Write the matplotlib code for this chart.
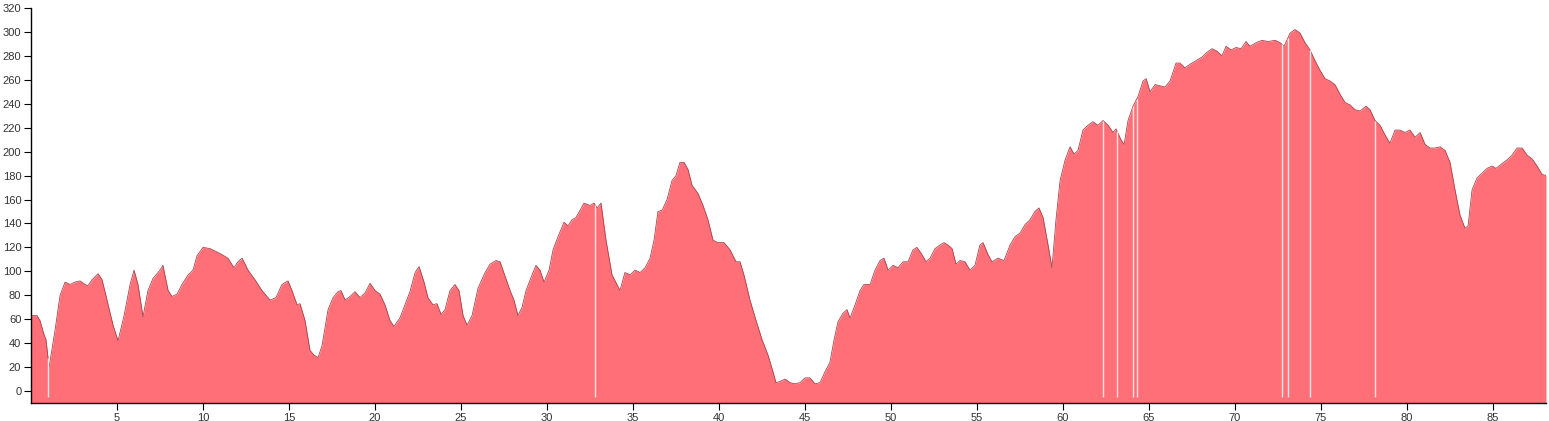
#! /usr/bin/env python3
""" Elevation profile drawn as a filled area chart. """

import matplotlib
matplotlib.use('Agg')
import matplotlib.pyplot as plt
import numpy as np

# distance along the route (km) and elevation (m)
distance_km = [
    0.00, 0.35, 0.52, 0.76, 0.87, 1.05, 1.40, 1.69, 1.98, 2.27, 2.56, 2.85,
    3.14, 3.31, 3.55, 3.90, 4.13, 4.42, 4.77, 5.06, 5.41, 5.76, 5.99, 6.22,
    6.51, 6.80, 7.09, 7.50, 7.67, 7.97, 8.20, 8.49, 8.78, 9.13, 9.42, 9.65,
    10.00, 10.41, 10.70, 11.10, 11.45, 11.80, 12.03, 12.27, 12.62, 13.02,
    13.43, 13.90, 14.24, 14.59, 14.94, 15.17, 15.47, 15.64, 15.93, 16.22,
    16.45, 16.69, 16.92, 17.27, 17.56, 17.85, 18.02, 18.26, 18.55, 18.84,
    19.13, 19.42, 19.71, 20.00, 20.29, 20.58, 20.87, 21.10, 21.45, 21.74,
    22.03, 22.33, 22.56, 22.85, 23.08, 23.37, 23.60, 23.84, 24.07, 24.36,
    24.65, 24.88, 25.12, 25.35, 25.64, 25.99, 26.40, 26.69, 27.03, 27.27,
    27.56, 27.85, 28.08, 28.31, 28.55, 28.78, 29.13, 29.36, 29.59, 29.83,
    30.12, 30.35, 30.64, 30.99, 31.22, 31.45, 31.69, 31.92, 32.15, 32.50,
    32.73, 32.91, 33.14, 33.43, 33.78, 34.07, 34.24, 34.53, 34.83, 35.12,
    35.41, 35.70, 35.99, 36.22, 36.45, 36.69, 36.98, 37.27, 37.50, 37.73,
    37.97, 38.20, 38.43, 38.78, 39.07, 39.36, 39.65, 39.94, 40.29, 40.64,
    40.99, 41.22, 41.45, 41.80, 42.15, 42.50, 42.85, 43.14, 43.31, 43.55,
    43.84, 44.13, 44.42, 44.71, 45.00, 45.29, 45.58, 45.87, 46.16, 46.45,
    46.69, 46.92, 47.21, 47.44, 47.62, 47.91, 48.20, 48.43, 48.78, 49.07,
    49.36, 49.59, 49.83, 50.12, 50.41, 50.70, 50.99, 51.28, 51.51, 51.80,
    52.03, 52.27, 52.56, 52.85, 53.08, 53.31, 53.55, 53.78, 54.01, 54.30,
    54.59, 54.88, 55.17, 55.35, 55.64, 55.87, 56.22, 56.57, 56.92, 57.21,
    57.50, 57.79, 58.08, 58.37, 58.60, 58.84, 59.13, 59.36, 59.59, 59.83,
    60.12, 60.41, 60.64, 60.87, 61.16, 61.45, 61.74, 62.03, 62.33, 62.62,
    62.91, 63.08, 63.37, 63.55, 63.78, 64.07, 64.36, 64.65, 64.83, 65.06,
    65.35, 65.64, 65.93, 66.22, 66.57, 66.80, 67.09, 67.38, 67.73, 68.08,
    68.37, 68.66, 68.95, 69.24, 69.48, 69.77, 70.06, 70.35, 70.64, 70.87,
    71.22, 71.57, 71.92, 72.33, 72.62, 72.85, 73.20, 73.49, 73.78, 74.07,
    74.36, 74.65, 74.94, 75.23, 75.52, 75.81, 76.10, 76.40, 76.69, 76.98,
    77.27, 77.62, 77.85, 78.14, 78.43, 78.72, 79.01, 79.30, 79.59, 79.88,
    80.17, 80.47, 80.76, 81.05, 81.34, 81.63, 81.92, 82.21, 82.50, 82.79,
    83.08, 83.37, 83.55, 83.78, 84.07, 84.36, 84.65, 84.94, 85.17, 85.52,
    85.81, 86.10, 86.40, 86.69, 86.98, 87.27, 87.56, 87.85, 88.08,
]
elevation_m = [
    63, 63, 59, 47, 43, 20, 51, 80, 91, 89, 91, 92,
    89, 88, 93, 98, 93, 76, 55, 42, 63, 89, 101, 89,
    62, 84, 94, 101, 105, 84, 79, 81, 89, 97, 101, 113,
    120, 119, 117, 114, 111, 103, 108, 111, 101, 93,
    84, 76, 78, 89, 92, 84, 72, 73, 59, 34,
    30, 28, 38, 68, 78, 83, 84, 76, 79, 83,
    78, 82, 90, 84, 81, 72, 59, 54, 61, 72,
    83, 99, 104, 91, 78, 72, 73, 64, 68, 84,
    89, 84, 63, 55, 63, 86, 99, 106, 109, 108,
    96, 84, 76, 63, 70, 84, 97, 105, 101, 91,
    101, 118, 129, 141, 138, 143, 145, 151, 157, 155,
    157, 153, 157, 126, 97, 89, 84, 99, 97, 101,
    99, 103, 111, 126, 150, 151, 160, 176, 180, 191,
    191, 185, 172, 165, 155, 143, 126, 124, 124, 118,
    108, 108, 97, 76, 59, 43, 30, 16, 7, 8,
    10, 7, 6, 7, 11, 11, 6, 7, 16, 24,
    43, 58, 65, 68, 61, 72, 84, 89, 89, 101,
    109, 111, 101, 105, 103, 108, 108, 118, 120, 114,
    108, 111, 119, 122, 124, 122, 119, 106, 109, 108,
    101, 105, 122, 124, 114, 108, 111, 109, 122, 129,
    132, 139, 143, 150, 153, 145, 122, 103, 143, 176,
    193, 204, 198, 201, 218, 222, 225, 222, 226, 222,
    216, 219, 210, 206, 226, 238, 246, 259, 261, 250,
    256, 255, 254, 259, 274, 274, 270, 273, 276, 279,
    283, 286, 284, 280, 288, 285, 287, 286, 292, 288,
    291, 293, 292, 293, 291, 288, 299, 302, 299, 291,
    285, 276, 268, 261, 259, 256, 248, 241, 239, 235,
    234, 238, 235, 226, 222, 214, 207, 218, 218, 216,
    218, 212, 216, 206, 203, 203, 204, 201, 191, 168,
    147, 136, 138, 168, 178, 182, 186, 188, 186, 190,
    193, 197, 203, 203, 197, 194, 188, 181, 180,
]
# positions (km) where the track has gaps, shown as thin white lines
gap_km = [0.99, 32.79, 62.33, 63.14, 64.07, 64.30, 72.73, 73.08, 74.36, 78.14]

y_ticks = list(range(0, 321, 20))
x_ticks = list(range(5, 86, 5))


def main():
    """Draw the elevation profile and save it."""
    plt.rcParams['font.family'] = ['Liberation Sans', 'DejaVu Sans']

    fig = plt.figure(figsize=(15.49, 4.21), dpi=100)
    ax = fig.add_axes([31 / 1549, 18 / 421, 1515 / 1549, 395 / 421])

    dist = np.array(distance_km)
    elev = np.array(elevation_m)
    y_min = -10

    ax.fill_between(dist, y_min, elev, color='#ff6f77', linewidth=0)
    ax.plot(dist, elev, color='#a8444c', linewidth=0.6)

    gap_tops = np.interp(gap_km, dist, elev)
    ax.vlines(gap_km, y_min + 5, gap_tops, color='#ffe4e6', linewidth=1.0)

    ax.set_xlim(0, dist[-1])
    ax.set_ylim(y_min, 320)
    ax.set_xticks(x_ticks)
    ax.set_yticks(y_ticks)

    for side in ('top', 'right'):
        ax.spines[side].set_visible(False)
    for side in ('left', 'bottom'):
        ax.spines[side].set_linewidth(1.0)
        ax.spines[side].set_color('black')

    ax.tick_params(axis='both', labelsize=8, labelcolor='#333333',
                   length=5, width=0.8, pad=2)

    fig.savefig('out.png', dpi=100, facecolor='white')


if __name__ == "__main__":
    main()
